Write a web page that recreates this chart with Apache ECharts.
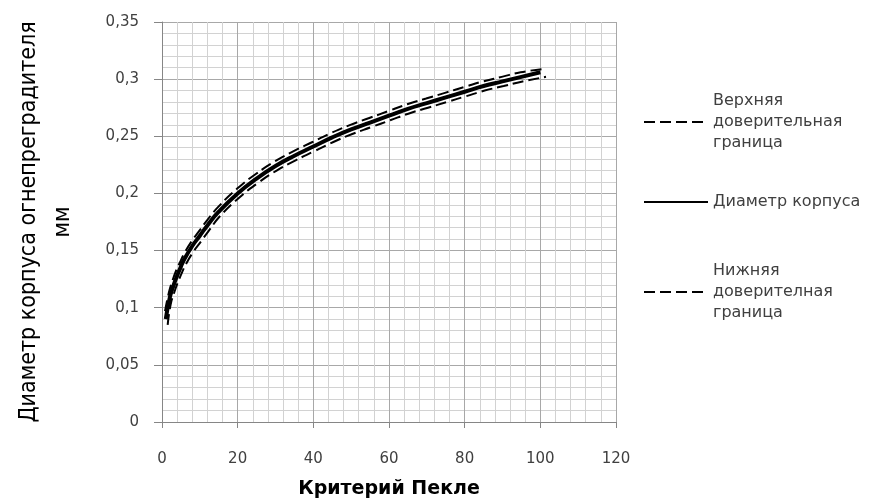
<!DOCTYPE html>
<html>
<head>
<meta charset="utf-8">
<script src="https://cdn.jsdelivr.net/npm/echarts@6/dist/echarts.min.js"></script>
<style>html,body{margin:0;padding:0;background:#fff;}#chart{width:886px;height:504px;}</style>
</head>
<body>
<div id="chart"></div>
<script>
// Peclet criterion (x) and diameter values
const peclet = [1, 2, 3, 4, 5, 6, 8, 10, 12, 15, 20, 25, 30, 35, 40, 45, 50, 55, 60, 65, 70, 75, 80, 85, 90, 95, 100];
const diameter = [0.090, 0.108, 0.119, 0.128, 0.136, 0.143, 0.154, 0.163, 0.172, 0.184, 0.200, 0.213, 0.224, 0.233, 0.241, 0.249, 0.256, 0.262, 0.268, 0.274, 0.279, 0.284, 0.289, 0.294, 0.298, 0.302, 0.306];
const upperX = [0.8, 1.8, 2.8, 3.8, 4.8, 5.8, 7.8, 9.8, 11.8, 14.8, 19.8, 24.8, 29.8, 34.8, 39.8, 44.8, 49.8, 54.8, 59.8, 64.8, 69.8, 74.8, 79.8, 84.8, 89.8, 94.8, 101];
const upperBound = [0.097, 0.113, 0.124, 0.133, 0.140, 0.147, 0.158, 0.167, 0.176, 0.188, 0.204, 0.217, 0.228, 0.237, 0.245, 0.253, 0.260, 0.266, 0.272, 0.278, 0.283, 0.288, 0.293, 0.298, 0.302, 0.306, 0.309];
const lowerX = [1.5, 2.3, 3.3, 4.3, 5.3, 6.3, 8.3, 10.3, 12.3, 15.3, 20.3, 25.3, 30.3, 35.3, 40.3, 45.3, 50.3, 55.3, 60.3, 65.3, 70.3, 75.3, 80.3, 85.3, 90.3, 95.3, 101.5];
const lowerBound = [0.085, 0.103, 0.114, 0.123, 0.131, 0.138, 0.149, 0.158, 0.167, 0.180, 0.196, 0.209, 0.220, 0.229, 0.237, 0.245, 0.252, 0.258, 0.264, 0.270, 0.275, 0.280, 0.285, 0.290, 0.294, 0.298, 0.302];

const xTicks = [0, 20, 40, 60, 80, 100, 120];
const yTicks = [0, 0.05, 0.1, 0.15, 0.2, 0.25, 0.3, 0.35];

const nameUpper = 'Верхняя доверительная граница';
const nameMain = 'Диаметр корпуса';
const nameLower = 'Нижняя доверителная граница';
const legendLabels = {};
legendLabels[nameUpper] = 'Верхняя\nдоверительная\nграница';
legendLabels[nameMain] = 'Диаметр корпуса';
legendLabels[nameLower] = 'Нижняя\nдоверителная\nграница';

const zip = (xs, ys) => xs.map((x, i) => [x, ys[i]]);

const textColor = '#404040';
const tickFont = 'DejaVu Sans';
const lh = 21;

function makeLegend(name, top, multi) {
  return {
    show: true,
    data: [name],
    left: 643,
    top: top,
    orient: 'vertical',
    itemWidth: 64,
    itemHeight: 14,
    itemGap: 0,
    padding: 0,
    selectedMode: false,
    formatter: n => legendLabels[n],
    itemStyle: {color: 'rgba(0,0,0,0)', borderColor: 'rgba(0,0,0,0)', borderWidth: 0, opacity: 0},
    textStyle: {
      fontFamily: tickFont,
      fontSize: 16,
      color: textColor,
      lineHeight: lh,
      padding: multi ? [2 * lh, 0, 0, 0] : 0
    }
  };
}

const chart = echarts.init(document.getElementById('chart'), null, {renderer: 'canvas'});
chart.setOption({
  animation: false,
  backgroundColor: '#ffffff',
  grid: {left: 162, right: 270, top: 22, bottom: 80, containLabel: false},
  legend: [
    makeLegend(nameUpper, 122 - 2.5 * lh, true),
    makeLegend(nameMain, 202 - lh / 2, false),
    makeLegend(nameLower, 292 - 2.5 * lh, true)
  ],
  xAxis: {
    type: 'value',
    min: xTicks[0],
    max: xTicks[xTicks.length - 1],
    interval: 20,
    name: 'Критерий Пекле',
    nameLocation: 'middle',
    nameGap: 58,
    nameTextStyle: {fontFamily: 'DejaVu Sans', fontWeight: 'bold', fontSize: 19, color: '#000'},
    axisLine: {show: true, onZero: false, lineStyle: {color: '#868686', width: 1}},
    axisTick: {show: true, length: 6, inside: false, lineStyle: {color: '#868686'}},
    axisLabel: {margin: 30, fontFamily: tickFont, fontSize: 15, color: textColor},
    splitLine: {show: true, lineStyle: {color: '#a8a8a8', width: 1}},
    minorTick: {show: false, splitNumber: 5},
    minorSplitLine: {show: true, lineStyle: {color: '#d2d2d2', width: 1}}
  },
  yAxis: {
    type: 'value',
    min: yTicks[0],
    max: yTicks[yTicks.length - 1],
    interval: 0.05,
    name: 'Диаметр корпуса огнепреградителя\nмм',
    nameLocation: 'middle',
    nameRotate: 90,
    nameGap: 82,
    nameTextStyle: {fontFamily: 'Liberation Sans Narrow, DejaVu Sans Condensed, sans-serif', fontSize: 23, lineHeight: 34, color: '#000', align: 'center'},
    axisLine: {show: true, onZero: false, lineStyle: {color: '#868686', width: 1}},
    axisTick: {show: true, length: 8, inside: false, lineStyle: {color: '#868686'}},
    axisLabel: {margin: 23, fontFamily: tickFont, fontSize: 15, color: textColor,
      formatter: v => String(Math.round(v * 100) / 100).replace('.', ',')},
    splitLine: {show: true, lineStyle: {color: '#a8a8a8', width: 1}},
    minorTick: {show: false, splitNumber: 5},
    minorSplitLine: {show: true, lineStyle: {color: '#d2d2d2', width: 1}}
  },
  series: [
    {
      name: nameUpper, type: 'line', smooth: true, symbol: 'none',
      data: zip(upperX, upperBound),
      lineStyle: {color: '#000', width: 2, type: [11, 5]},
      itemStyle: {color: '#000'}, z: 3
    },
    {
      name: nameMain, type: 'line', smooth: true, symbol: 'none',
      data: zip(peclet, diameter),
      lineStyle: {color: '#000', width: 4},
      itemStyle: {color: '#000'}, z: 4
    },
    {
      name: nameLower, type: 'line', smooth: true, symbol: 'none',
      data: zip(lowerX, lowerBound),
      lineStyle: {color: '#000', width: 2, type: [11, 5]},
      itemStyle: {color: '#000'}, z: 3
    }
  ]
});
</script>
</body>
</html>
